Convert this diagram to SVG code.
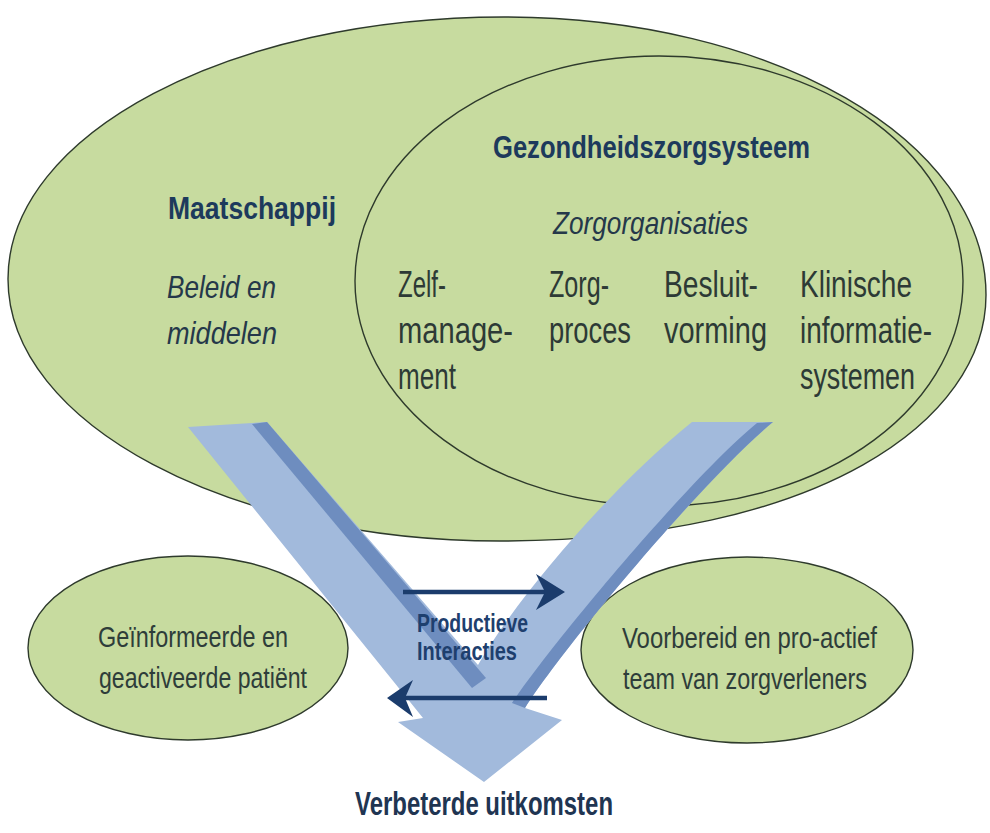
<svg xmlns="http://www.w3.org/2000/svg" width="990" height="833" viewBox="0 0 990 833">
<style>
.blob{fill:#c7db9f;stroke:#2e3a2c;stroke-width:1.4}
.t{font-family:"Liberation Sans Narrow","Liberation Sans",Arial,sans-serif}
.h{font-weight:bold;fill:#1d3a5c;font-size:32px}
.i{font-style:italic;fill:#25384a;font-size:32px}
.c{fill:#2d3a36;font-size:37px}
.s{fill:#2e3d3a;font-size:29px}
.p{font-weight:bold;fill:#1e3f6e;font-size:26px}
.v{font-weight:bold;fill:#1f3552;font-size:33px}
.arm{fill:#a2badc}
.shade{fill:#6e8dbf}
.conn{stroke:#1b3c6c;stroke-width:4.5;fill:none}
.head{fill:#1b3c6c}
</style>
<rect width="990" height="833" fill="#ffffff"/>
<g id="maatschappij">
<path class="blob" d="M8,279 C8,134 230,17 504,17 C772,17 986,140 986,295 C986,420 820,541 500,541 C230,541 8,424 8,279 Z"/>
<text class="t h" x="168" y="219" textLength="168" lengthAdjust="spacingAndGlyphs">Maatschappij</text>
<text class="t i" x="167" y="298" textLength="109" lengthAdjust="spacingAndGlyphs">Beleid en</text>
<text class="t i" x="167" y="344" textLength="110" lengthAdjust="spacingAndGlyphs">middelen</text>
</g>
<g id="gezondheidszorgsysteem">
<ellipse class="blob" cx="659" cy="281" rx="304" ry="225"/>
<text class="t h" x="493" y="158" textLength="317" lengthAdjust="spacingAndGlyphs">Gezondheidszorgsysteem</text>
<text class="t i" x="553" y="234" textLength="195" lengthAdjust="spacingAndGlyphs">Zorgorganisaties</text>
</g>
<g id="zelfmanagement">
<text class="t c" x="398" y="297" textLength="48" lengthAdjust="spacingAndGlyphs">Zelf-</text>
<text class="t c" x="398" y="343" textLength="115" lengthAdjust="spacingAndGlyphs">manage-</text>
<text class="t c" x="398" y="389" textLength="58" lengthAdjust="spacingAndGlyphs">ment</text>
</g>
<g id="zorgproces">
<text class="t c" x="549" y="297" textLength="60" lengthAdjust="spacingAndGlyphs">Zorg-</text>
<text class="t c" x="549" y="343" textLength="82" lengthAdjust="spacingAndGlyphs">proces</text>
</g>
<g id="besluitvorming">
<text class="t c" x="664" y="297" textLength="94" lengthAdjust="spacingAndGlyphs">Besluit-</text>
<text class="t c" x="664" y="343" textLength="103" lengthAdjust="spacingAndGlyphs">vorming</text>
</g>
<g id="klinische-informatiesystemen">
<text class="t c" x="800" y="297" textLength="112" lengthAdjust="spacingAndGlyphs">Klinische</text>
<text class="t c" x="800" y="343" textLength="132" lengthAdjust="spacingAndGlyphs">informatie-</text>
<text class="t c" x="800" y="389" textLength="115" lengthAdjust="spacingAndGlyphs">systemen</text>
</g>
<g id="patient">
<ellipse class="blob" cx="188" cy="648" rx="160" ry="92"/>
<text class="t s" x="98" y="647" textLength="190" lengthAdjust="spacingAndGlyphs">Geïnformeerde en</text>
<text class="t s" x="99" y="688" textLength="208" lengthAdjust="spacingAndGlyphs">geactiveerde patiënt</text>
</g>
<g id="team">
<ellipse class="blob" cx="747" cy="650" rx="166" ry="93"/>
<text class="t s" x="622" y="648" textLength="255" lengthAdjust="spacingAndGlyphs">Voorbereid en pro-actief</text>
<text class="t s" x="623" y="689" textLength="244" lengthAdjust="spacingAndGlyphs">team van zorgverleners</text>
</g>
<g id="v-arrow">
<path class="arm" d="M188,427 L267,422 L478,665 C515,600 610,488 692,422 L773,422 C705,478 565,645 525,708 L562,720 L484,782 L398,722 L423,718 Z"/>
<path class="shade" d="M773,422 C705,478 565,645 525,708 L512,703 C553,642 690,478 757,423 Z"/>
<path class="shade" d="M252,424 L267,422 L486,678 L472,688 Z"/>
</g>
<g id="connectors">
<line class="conn" x1="403" y1="592" x2="550" y2="592"/>
<path class="head" d="M565,592 L536,574 L545,592 L536,610 Z"/>
<line class="conn" x1="547" y1="698" x2="400" y2="698"/>
<path class="head" d="M387,698 L413,680 L405,698 L413,717 Z"/>
</g>
<g id="interacties">
<text class="t p" x="417" y="632" textLength="111" lengthAdjust="spacingAndGlyphs">Productieve</text>
<text class="t p" x="417" y="660" textLength="100" lengthAdjust="spacingAndGlyphs">Interacties</text>
</g>
<g id="uitkomsten">
<text class="t v" x="355" y="815" textLength="258" lengthAdjust="spacingAndGlyphs">Verbeterde uitkomsten</text>
</g>
</svg>
